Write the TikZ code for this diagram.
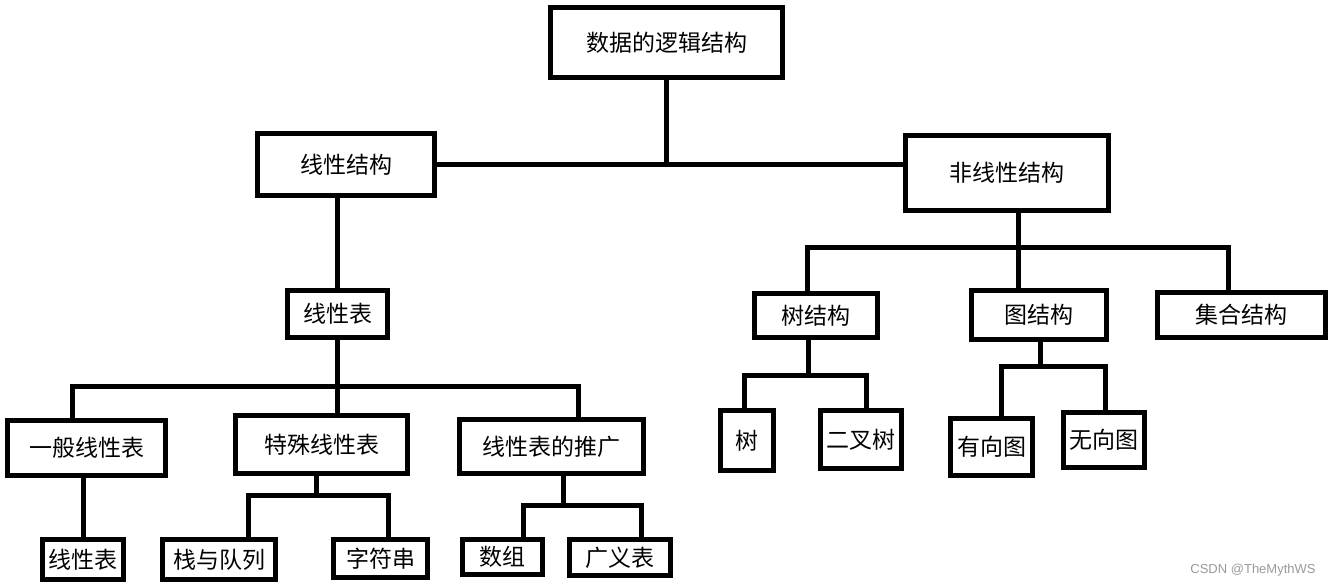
\documentclass[tikz,border=0pt]{standalone}
\usepackage{fontspec}
\usepackage{tikz}
\usetikzlibrary{positioning}
\newfontfamily\zhfont{Noto Sans CJK SC}
\newfontfamily\markfont{Liberation Sans}
\definecolor{lsBlack}{HTML}{000000}
\definecolor{lsMark}{HTML}{9A9A9A}
\tikzset{
  ls-box/.style={
    draw=lsBlack, line width=2.5pt, fill=white,
    font=\zhfont\fontsize{11.5}{13}\selectfont, align=center,
    inner sep=0pt
  },
  ls-link/.style={draw=lsBlack, line width=2.5pt, line join=miter},
  ls-mark/.style={font=\markfont\fontsize{6.5}{8}\selectfont, text=lsMark}
}

\begin{document}
\begin{tikzpicture}[x=0.5pt, y=-0.5pt]
\useasboundingbox (0,0) rectangle (1333,587);
\fill[white] (0,0) rectangle (1333,587);

% Top level
\node[ls-box, minimum width=116pt, minimum height=35pt] (root) at (666.5,42.5) {数据的逻辑结构};
\node[ls-box, minimum width=88.5pt, minimum height=31pt] (lin) at (346,164.5) {线性结构};
\node[ls-box, minimum width=101.5pt, minimum height=37.5pt] (nonlin) at (1007,173) {非线性结构};

% Linear side
\node[ls-box, minimum width=50pt, minimum height=23.5pt] (lintab) at (337.5,314) {线性表};
\node[ls-box, minimum width=79pt, minimum height=27.5pt] (gen) at (86.5,448) {一般线性表};
\node[ls-box, minimum width=86pt, minimum height=29pt] (spec) at (321.5,444.5) {特殊线性表};
\node[ls-box, minimum width=92pt, minimum height=27pt] (ext) at (551.5,446.5) {线性表的推广};
\node[ls-box, minimum width=40.5pt, minimum height=20pt] (lintabB) at (83,559.5) {线性表};
\node[ls-box, minimum width=56.5pt, minimum height=20pt] (stack) at (219,559.5) {栈与队列};
\node[ls-box, minimum width=47pt, minimum height=19pt] (str) at (380.5,558.5) {字符串};
\node[ls-box, minimum width=40pt, minimum height=17.5pt] (arr) at (502.5,557) {数组};
\node[ls-box, minimum width=50.5pt, minimum height=18pt] (glist) at (620,557.5) {广义表};

% Non-linear side
\node[ls-box, minimum width=61.5pt, minimum height=22pt] (tree) at (816,315.5) {树结构};
\node[ls-box, minimum width=67.5pt, minimum height=24.5pt] (graph) at (1039,315) {图结构};
\node[ls-box, minimum width=84pt, minimum height=22.5pt] (set) at (1241.5,315) {集合结构};
\node[ls-box, minimum width=26.5pt, minimum height=30pt] (treeL) at (747,440.5) {树};
\node[ls-box, minimum width=40.5pt, minimum height=29pt] (btree) at (861,439.5) {二叉树};
\node[ls-box, minimum width=41pt, minimum height=28.5pt] (dgraph) at (991.5,447) {有向图};
\node[ls-box, minimum width=40.5pt, minimum height=27.5pt] (ugraph) at (1104,440) {无向图};

% Bar points
\coordinate (lt-l) at (72,387);
\coordinate (lt-r) at (578,387);
\coordinate (sp-l) at (248,495);
\coordinate (sp-r) at (388,495);
\coordinate (sp-m) at (316,495);
\coordinate (ex-l) at (523,505);
\coordinate (ex-r) at (641,505);
\coordinate (ex-m) at (563,505);
\coordinate (nl-l) at (807,248);
\coordinate (nl-r) at (1228,248);
\coordinate (nl-m) at (1018,248);
\coordinate (tr-l) at (744,376);
\coordinate (tr-r) at (866,376);
\coordinate (tr-m) at (808,376);
\coordinate (gr-l) at (1001,367);
\coordinate (gr-r) at (1105,367);
\coordinate (gr-m) at (1040,367);

% Links
\draw[ls-link] (root.south) -- (root.south |- lin.east);
\draw[ls-link] (lin.east) -- (lin.east -| nonlin.west);
\draw[ls-link] (lintab.north |- lin.south) -- (lintab.north);

\draw[ls-link] (lintab.south) -- (lintab.south |- spec.north);
\draw[ls-link] (lt-l |- gen.north) -- (lt-l) -- (lt-r) -- (lt-r |- ext.north);

\draw[ls-link] (lintabB.north |- gen.south) -- (lintabB.north);

\draw[ls-link] (sp-m |- spec.south) -- (sp-m);
\draw[ls-link] (sp-l |- stack.north) -- (sp-l) -- (sp-r) -- (sp-r |- str.north);

\draw[ls-link] (ex-m |- ext.south) -- (ex-m);
\draw[ls-link] (ex-l |- arr.north) -- (ex-l) -- (ex-r) -- (ex-r |- glist.north);

\draw[ls-link] (nl-m |- nonlin.south) -- (nl-m |- graph.north);
\draw[ls-link] (nl-l |- tree.north) -- (nl-l) -- (nl-r) -- (nl-r |- set.north);

\draw[ls-link] (tr-m |- tree.south) -- (tr-m);
\draw[ls-link] (tr-l |- treeL.north) -- (tr-l) -- (tr-r) -- (tr-r |- btree.north);

\draw[ls-link] (gr-m |- graph.south) -- (gr-m);
\draw[ls-link] (gr-l |- dgraph.north) -- (gr-l) -- (gr-r) -- (gr-r |- ugraph.north);

\node[ls-mark] (mark) at (1253,570) {CSDN @TheMythWS};
\end{tikzpicture}
\end{document}
